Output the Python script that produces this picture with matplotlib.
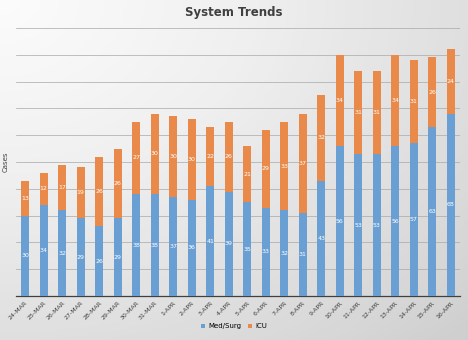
import numpy as np
import matplotlib
matplotlib.use("Agg")
import matplotlib.pyplot as plt

dates = ["24-MAR", "25-MAR", "26-MAR", "27-MAR", "28-MAR", "29-MAR", "30-MAR", "31-MAR",
         "1-APR", "2-APR", "3-APR", "4-APR", "5-APR", "6-APR", "7-APR", "8-APR",
         "9-APR", "10-APR", "11-APR", "12-APR", "13-APR", "14-APR", "15-APR", "16-APR"]
med_surg = [30, 34, 32, 29, 26, 29, 38, 38, 37, 36, 41, 39, 35, 33, 32, 31,
            43, 56, 53, 53, 56, 57, 63, 68]
icu = [13, 12, 17, 19, 26, 26, 27, 30, 30, 30, 22, 26, 21, 29, 33, 37,
       32, 34, 31, 31, 34, 31, 26, 24]

blue = "#6A9FD4"
orange = "#EA8A4A"

fig = plt.figure(figsize=(4.68, 3.40), dpi=100)

# gradient background like the Excel chart style
bg = fig.add_axes([0, 0, 1, 1], zorder=-10)
yy, xx = np.mgrid[0:1:200j, 0:1:200j]
grad = np.sqrt(xx**2 + yy**2) / np.sqrt(2)
bg.imshow(grad, cmap="Greys", vmin=-0.1, vmax=3.6, extent=[0, 1, 0, 1],
          aspect="auto", origin="upper")
bg.axis("off")

ax = fig.add_axes([0.034, 0.129, 0.949, 0.789])
ax.patch.set_alpha(0)
x = np.arange(len(dates))
w = 0.42
b1 = ax.bar(x, med_surg, w, color=blue, label="Med/Surg", zorder=3)
b2 = ax.bar(x, icu, w, bottom=med_surg, color=orange, label="ICU", zorder=3)

for i in range(len(dates)):
    ax.text(x[i], med_surg[i] / 2, str(med_surg[i]), ha="center", va="center",
            color="white", fontsize=4.5, zorder=4)
    ax.text(x[i], med_surg[i] + icu[i] / 2, str(icu[i]), ha="center", va="center",
            color="white", fontsize=4.5, zorder=4)

ax.set_xlim(-0.5, len(dates) - 0.5)
ax.set_ylim(0, 100)
ax.set_yticks(np.arange(0, 101, 10))
ax.set_yticklabels([])
ax.tick_params(axis="y", length=0)
ax.grid(axis="y", color="#a8a8a8", linewidth=0.5, zorder=0)
ax.set_xticks(x)
ax.set_xticklabels(dates, rotation=45, ha="right", rotation_mode="anchor",
                   fontsize=4.5, color="#404040")
ax.tick_params(axis="x", length=0, pad=3)
for s in ["top", "right", "left"]:
    ax.spines[s].set_visible(False)
ax.spines["bottom"].set_color("#404040")
ax.spines["bottom"].set_linewidth(0.9)
ax.set_ylabel("Cases", fontsize=5, color="#404040", labelpad=2)

fig.text(0.5, 0.962, "System Trends", ha="center", va="center",
         fontsize=8.5, fontweight="bold", color="#404040")
fig.legend(handles=[b1, b2], loc="center", bbox_to_anchor=(0.5, 0.04),
           ncol=2, frameon=False, fontsize=5, handlelength=0.6, handleheight=0.6,
           columnspacing=1.0, handletextpad=0.4)

fig.savefig("out.png", dpi=100)
